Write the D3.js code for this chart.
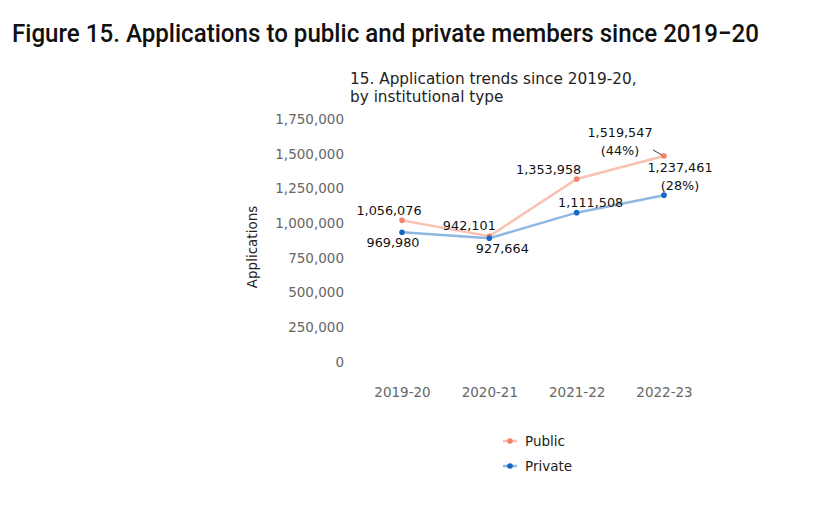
<!DOCTYPE html>
<html><head><meta charset="utf-8">
<script src="https://cdn.jsdelivr.net/npm/d3@7"></script>
<style>body{margin:0;background:#fff;} svg{display:block;}</style>
</head><body>
<svg id="c" width="834" height="508"></svg>
<script>
const years = ["2019-20", "2020-21", "2021-22", "2022-23"];
const publicValues = [1056076, 942101, 1353958, 1519547];
const privateValues = [969980, 927664, 1111508, 1237461];
const yTicks = [0, 250000, 500000, 750000, 1000000, 1250000, 1500000, 1750000];
const seriesNames = ["Public", "Private"];
const pctLabels = ["(44%)", "(28%)"];

const svg = d3.select("#c");
const fmt = d3.format(",");
const x = d3.scalePoint().domain(years).range([402, 664]);
const y = d3.scaleLinear().domain([0, 1750000]).range([367, 124]);

svg.append("text").attr("x", 12).attr("y", 42)
  .attr("font-family", "Roboto").attr("font-weight", 500).attr("font-size", 26.5)
  .attr("textLength", 747).attr("lengthAdjust", "spacingAndGlyphs")
  .attr("fill", "#111").text("Figure 15. Applications to public and private members since 2019\u221220");

const ft = "DejaVu Sans";
svg.append("text").attr("x", 350).attr("y", 84).attr("font-family", ft).attr("font-size", 15.3).attr("fill", "#222")
  .text("15. Application trends since 2019-20,");
svg.append("text").attr("x", 350).attr("y", 102).attr("font-family", ft).attr("font-size", 15.3).attr("fill", "#222")
  .text("by institutional type");

// y axis tick labels
const yAxis = d3.axisLeft(y).tickValues(yTicks).tickFormat(fmt).tickSize(0).tickPadding(0);
const ya = svg.append("g").attr("transform", "translate(344,0)").call(yAxis);
ya.select(".domain").remove();
ya.selectAll("text").attr("font-family", ft).attr("font-size", 13.5).attr("fill", "#666").attr("dy", "-0.05em");

const xAxis = d3.axisBottom(x).tickSize(0).tickPadding(0);
const xa = svg.append("g").attr("transform", "translate(0,387)").call(xAxis);
xa.select(".domain").remove();
xa.selectAll("text").attr("font-family", ft).attr("font-size", 13.5).attr("fill", "#666");

svg.append("text").attr("transform", "translate(257,247) rotate(-90)").attr("text-anchor", "middle")
  .attr("font-family", ft).attr("font-size", 13.5).attr("fill", "#222").text("Applications");

const series = [
  {name: seriesNames[0], values: publicValues, line: "#f8c1b2", dot: "#f2826a"},
  {name: seriesNames[1], values: privateValues, line: "#8db8e2", dot: "#1467c3"}
];
const line = d3.line().x((d, i) => x(years[i])).y(d => y(d));
series.forEach(s => {
  svg.append("path").datum(s.values).attr("d", line).attr("fill", "none")
    .attr("stroke", s.line).attr("stroke-width", 2.5);
  svg.selectAll(null).data(s.values).enter().append("circle")
    .attr("cx", (d, i) => x(years[i])).attr("cy", d => y(d)).attr("r", 2.8).attr("fill", s.dot);
});

// data labels: offsets relative to point
const pubOff = [[-13, -5], [-20, -6], [-28, -5], [-44, -19]];
const prvOff = [[-9, 15], [13, 15], [14, -6], [16, -23]];
function addLabels(vals, offs) {
  vals.forEach((v, i) => {
    svg.append("text").attr("x", x(years[i]) + offs[i][0]).attr("y", y(v) + offs[i][1])
      .attr("text-anchor", "middle").attr("font-family", ft).attr("font-size", 12.8).attr("fill", "#111")
      .text(fmt(v));
  });
}
addLabels(publicValues, pubOff);
addLabels(privateValues, prvOff);
svg.append("text").attr("x", x(years[3]) - 44).attr("y", y(publicValues[3]) - 1)
  .attr("text-anchor", "middle").attr("font-family", ft).attr("font-size", 12.8).attr("fill", "#111").text(pctLabels[0]);
svg.append("text").attr("x", x(years[3]) + 16).attr("y", y(privateValues[3]) - 5)
  .attr("text-anchor", "middle").attr("font-family", ft).attr("font-size", 12.8).attr("fill", "#111").text(pctLabels[1]);
svg.append("line").attr("x1", x(years[3]) - 11).attr("y1", y(publicValues[3]) - 6)
  .attr("x2", x(years[3]) - 2).attr("y2", y(publicValues[3]) - 1).attr("stroke", "#444").attr("stroke-width", 1);

// legend
series.forEach((s, i) => {
  const ly = 441 + i * 25;
  svg.append("line").attr("x1", 503).attr("x2", 517).attr("y1", ly).attr("y2", ly).attr("stroke", s.line).attr("stroke-width", 2.5);
  svg.append("circle").attr("cx", 510).attr("cy", ly).attr("r", 2.8).attr("fill", s.dot);
  svg.append("text").attr("x", 525).attr("y", ly + 4.5).attr("font-family", ft).attr("font-size", 13.5).attr("fill", "#222").text(s.name);
});
</script>
</body></html>
